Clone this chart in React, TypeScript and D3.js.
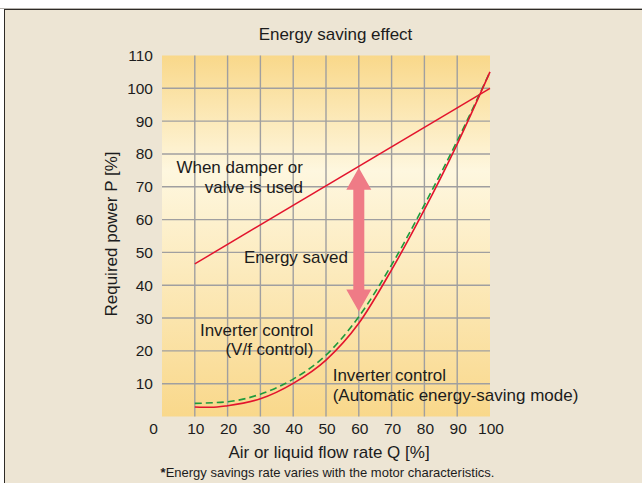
import { curveMonotoneX, line, scaleLinear } from "d3";

const flowTicks = [10, 20, 30, 40, 50, 60, 70, 80, 90, 100];
const powerTicks = [10, 20, 30, 40, 50, 60, 70, 80, 90, 100, 110];
const gridFlow = [10, 20, 30, 40, 50, 60, 70, 80, 90];
const gridPower = [10, 20, 30, 40, 50, 60, 70, 80, 90, 100];

const damperFlow = [10, 100];
const damperPower = [46.5, 100];

const autoFlow = [10, 15, 20, 30, 40, 50, 60, 70, 80, 90, 100];
const autoPower = [2.9, 2.8, 3.3, 5.4, 10.1, 17.2, 28.4, 44.7, 63, 83, 105];

const vfFlow = [10, 20, 30, 40, 50, 60, 70, 80, 90, 100];
const vfPower = [4.0, 4.5, 6.8, 11.4, 18.7, 30.4, 46.2, 64.5, 84, 105];

const arrowFlow = 60;
const arrowPower = [32, 75.8];

const font = "'Liberation Sans', Arial, Helvetica, sans-serif";
const textColor = "#1c1c1c";

const x = scaleLinear().domain([0, 100]).range([162, 490]);
const y = scaleLinear().domain([0, 110]).range([416.5, 55.5]);

const curve = line<[number, number]>()
  .curve(curveMonotoneX)
  .x(([q]) => x(q))
  .y(([, p]) => y(p));

function pairs(qs: number[], ps: number[]): [number, number][] {
  return qs.map((q, i) => [q, ps[i]]);
}

function arrowPath(): string {
  const cx = x(arrowFlow);
  const yBottom = y(arrowPower[0]);
  const yTop = y(arrowPower[1]);
  const head = 22;
  const headHalf = 12.5;
  const shaftHalf = 5.5;
  return [
    `M${cx},${yTop}`,
    `L${cx + headHalf},${yTop + head}`,
    `L${cx + shaftHalf},${yTop + head}`,
    `L${cx + shaftHalf},${yBottom - head}`,
    `L${cx + headHalf},${yBottom - head}`,
    `L${cx},${yBottom}`,
    `L${cx - headHalf},${yBottom - head}`,
    `L${cx - shaftHalf},${yBottom - head}`,
    `L${cx - shaftHalf},${yTop + head}`,
    `L${cx - headHalf},${yTop + head}`,
    "Z"
  ].join(" ");
}

export default function App(): React.JSX.Element {
  const [x0, x1] = x.range();
  const [y0, y1] = y.range();
  return (
    <svg
      width={642}
      height={483}
      style={{ position: "fixed", left: 0, top: 0, background: "#fff" }}
      fontFamily={font}
    >
      <defs>
        <linearGradient id="plotBg" x1="0" y1="0" x2="0" y2="1">
          <stop offset="0" stopColor="#f9d88a" />
          <stop offset="0.32" stopColor="#fef7df" />
          <stop offset="1" stopColor="#f9d88b" />
        </linearGradient>
      </defs>
      <line x1={0} x2={642} y1={8.5} y2={8.5} stroke="#b5b2ad" />
      <rect x={4.5} y={9.5} width={700} height={500} fill="#ede5d4" stroke="#2e2b27" />

      <text x={335.5} y={40} textAnchor="middle" fontSize={17} fill={textColor}>
        Energy saving effect
      </text>

      <rect x={x0} y={y1} width={x1 - x0} height={y0 - y1} fill="url(#plotBg)" />
      {gridFlow.map((q) => (
        <line key={`gx${q}`} x1={x(q)} x2={x(q)} y1={y1} y2={y0} stroke="#a09fa0" strokeWidth={1.4} />
      ))}
      {gridPower.map((p) => (
        <line key={`gy${p}`} x1={x0} x2={x1} y1={y(p)} y2={y(p)} stroke="#a09fa0" strokeWidth={1.4} />
      ))}

      {powerTicks.map((p) => (
        <text key={`ty${p}`} x={x0 - 9} y={y(p) + 5.5} textAnchor="end" fontSize={15.5} fill={textColor}>
          {p}
        </text>
      ))}
      {flowTicks.map((q) => (
        <text key={`tx${q}`} x={x(q) + 1} y={y0 + 17} textAnchor="middle" fontSize={15.5} fill={textColor}>
          {q}
        </text>
      ))}
      <text x={x0 - 8.5} y={y0 + 17} textAnchor="middle" fontSize={15.5} fill={textColor}>
        0
      </text>

      <path
        d={curve(pairs(damperFlow, damperPower)) ?? ""}
        fill="none"
        stroke="#e3142d"
        strokeWidth={1.5}
      />
      <path
        d={arrowPath()}
        fill="#ef7b86"
      />
      <path
        d={curve(pairs(vfFlow, vfPower)) ?? ""}
        fill="none"
        stroke="#1f9a3c"
        strokeWidth={1.6}
        strokeDasharray="7 4"
      />
      <path
        d={curve(pairs(autoFlow, autoPower)) ?? ""}
        fill="none"
        stroke="#e3142d"
        strokeWidth={1.6}
      />

      <g fontSize={17} fill={textColor}>
        <text x={303} y={173.3} textAnchor="end">When damper or</text>
        <text x={303} y={193.3} textAnchor="end">valve is used</text>
        <text x={244} y={262.7}>Energy saved</text>
        <text x={313.3} y={336} textAnchor="end">Inverter control</text>
        <text x={313.3} y={355} textAnchor="end">(V/f control)</text>
        <text x={332.7} y={380.7}>Inverter control</text>
        <text x={332.7} y={400.5}>(Automatic energy-saving mode)</text>
      </g>

      <text
        transform={`translate(117,234) rotate(-90)`}
        textAnchor="middle"
        fontSize={17}
        fill={textColor}
      >
        Required power P [%]
      </text>
      <text x={329} y={458} textAnchor="middle" fontSize={17} fill={textColor}>
        Air or liquid flow rate Q [%]
      </text>
      <text x={327.5} y={476.5} textAnchor="middle" fontSize={13} fill={textColor}>
        <tspan fontWeight="bold">*</tspan>Energy savings rate varies with the motor characteristics.
      </text>
    </svg>
  );
}
